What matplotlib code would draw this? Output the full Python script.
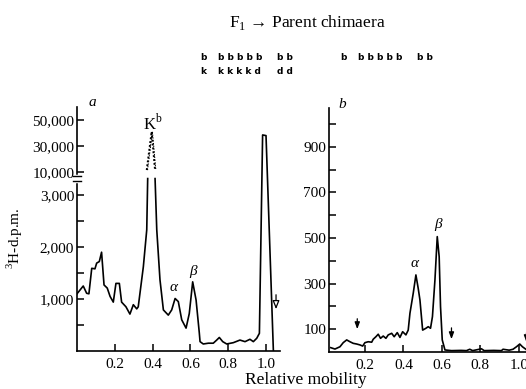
import numpy as np
import matplotlib
matplotlib.use("Agg")
import matplotlib.pyplot as plt
from matplotlib.ticker import FixedLocator, FixedFormatter, NullFormatter

plt.rcParams["font.family"] = ["Liberation Serif", "DejaVu Serif"]
plt.rcParams["mathtext.fontset"] = "custom"
plt.rcParams["mathtext.rm"] = "Liberation Serif"

# panel a: F1 cells, counts (d.p.m.) vs relative mobility
mob_a = [0.0, 0.033, 0.051, 0.063, 0.078, 0.095, 0.104, 0.118, 0.13, 0.143,
         0.16, 0.175, 0.192, 0.206, 0.224, 0.236, 0.259, 0.28, 0.298, 0.316,
         0.324, 0.351, 0.369, 0.374, np.nan, 0.413, 0.422, 0.439, 0.457, 0.483,
         0.501, 0.519, 0.536, 0.554, 0.577, 0.594, 0.612, 0.63, 0.647, 0.651,
         0.668, 0.695, 0.721, 0.739, 0.753, 0.771, 0.792, 0.827, 0.862, 0.889,
         0.915, 0.933, 0.951, 0.965, 0.982, 1.0, 1.039]
dpm_a = [1100, 1250, 1110, 1100, 1590, 1580, 1690, 1720, 1900, 1270,
         1210, 1050, 940, 1300, 1300, 940, 850, 710, 890, 810,
         850, 1620, 2330, 8000, np.nan, 8000, 2330, 1370, 790, 690,
         790, 1010, 950, 600, 440, 720, 1330, 980, 350, 180,
         135, 150, 150, 210, 260, 180, 135, 160, 210, 180,
         225, 180, 245, 340, 38500, 38000, 0]
# off-scale top of the K^b peak (dotted)
kb_mob = [0.369, 0.395, 0.413]
kb_dpm = [11500, 41000, 11500]

# panel b: parent chimaera
mob_b = [0.022, 0.044, 0.07, 0.087, 0.105, 0.122, 0.139, 0.157, 0.174, 0.188,
         0.2, 0.217, 0.235, 0.243, 0.257, 0.269, 0.281, 0.295, 0.309, 0.321,
         0.339, 0.352, 0.368, 0.382, 0.396, 0.413, 0.425, 0.434, 0.451, 0.465,
         0.477, 0.486, 0.5, 0.517, 0.529, 0.541, 0.551, 0.564, 0.576, 0.586,
         0.593, 0.602, 0.616, 0.65, 0.7, 0.728, 0.745, 0.76, 0.806, 0.82,
         0.87, 0.91, 0.918, 0.95, 0.97, 0.988, 1.005, 1.019, 1.04, 1.08]
dpm_b = [19, 13, 23, 41, 53, 45, 38, 35, 31, 26,
         41, 45, 43, 56, 67, 78, 60, 70, 60, 75,
         82, 67, 85, 64, 89, 75, 96, 170, 257, 338,
         279, 228, 96, 104, 111, 104, 155, 316, 506, 418,
         199, 53, 9, 6, 7, 6, 12, 6, 14, 6,
         7, 6, 12, 8, 12, 23, 35, 23, 10, 10]

x_ticks = [0.2, 0.4, 0.6, 0.8, 1.0]
a_ticks = [500, 1000, 1500, 2000, 2500, 3000, 10000, 30000, 50000]
a_labels = ["", "1,000", "", "2,000", "", "3,000", "10,000", "30,000", "50,000"]
b_ticks = [100, 200, 300, 400, 500, 600, 700, 800, 900, 1000]
b_labels = ["100", "", "300", "", "500", "", "700", "", "900", ""]

# arrows (mobility, from, to)
arrow_a = (1.053, 1135, 750)
arrows_b = [(0.16, 158, 88), (0.65, 118, 44), (1.04, 96, 31)]

# broken y scale for panel a: linear to 3,000, squeezed above
brk_v = [-1e6, 0, 3000, 10000, 1e6]
brk_u = [-1000, 0, 3.0, 3.442, 3.442 + 99 * 0.25]


def fwd(v):
    return np.interp(v, brk_v, brk_u)


def inv(u):
    return np.interp(u, brk_u, brk_v)


fig = plt.figure(figsize=(5.26, 3.89), dpi=100)
W, H = 526, 389

ax_a = fig.add_axes([77 / W, 1 - 351 / H, 203 / W, 244 / H])
ax_b = fig.add_axes([329 / W, 1 - 352 / H, 209 / W, 244 / H])

for ax in (ax_a, ax_b):
    ax.spines["top"].set_visible(False)
    ax.spines["right"].set_visible(False)
    ax.spines["left"].set_linewidth(1.2)
    ax.spines["bottom"].set_linewidth(1.2)
    ax.tick_params(direction="in", length=5, width=1.1, labelsize=11, pad=2)
    ax.tick_params(axis="x", pad=5)
    ax.xaxis.set_major_locator(FixedLocator(x_ticks))
    ax.set_xticklabels([f"{t:.1f}" for t in x_ticks])

# panel a
ax_a.set_yscale("function", functions=(fwd, inv))
ax_a.plot(mob_a, dpm_a, color="black", lw=1.2)
ax_a.plot(kb_mob, kb_dpm, color="black", lw=1.4, ls=(0, (1, 1)))
ax_a.plot([m + 0.004 for m in kb_mob], kb_dpm, color="black", lw=0.8, ls=(0, (1, 1.5)))
ax_a.set_xlim(0, 1.074)
ax_a.set_ylim(0, 60000)
ax_a.yaxis.set_major_locator(FixedLocator(a_ticks))
ax_a.yaxis.set_major_formatter(FixedFormatter(a_labels))
ax_a.yaxis.set_minor_formatter(NullFormatter())

# break on the y axis between 3,000 and 10,000
ytr = ax_a.get_yaxis_transform()
ax_a.plot([0, 0], [7300, 8700], color="white", lw=2.5, transform=ytr, clip_on=False, zorder=5)
for v in (7200, 8800):
    ax_a.plot([-0.02, 0.02], [v, v], color="black", lw=1.0, transform=ytr, clip_on=False, zorder=6)

ax_a.text(0.40, 47500, r"K$^{\mathrm{b}}$", ha="center", va="center", fontsize=12)
ax_a.text(0.513, 1230, "α", ha="center", va="center", fontsize=11, style="italic")
ax_a.text(0.614, 1520, "β", ha="center", va="center", fontsize=11, style="italic")
ax_a.annotate("", xy=(arrow_a[0], arrow_a[2]), xytext=(arrow_a[0], arrow_a[1]),
              arrowprops=dict(arrowstyle="-|>,head_length=0.5,head_width=0.2",
                              fc="white", ec="black", lw=0.9),
              annotation_clip=False)

# panel b
ax_b.plot(mob_b, dpm_b, color="black", lw=1.2)
ax_b.set_xlim(0.013, 1.10)
ax_b.set_ylim(0, 1070)
ax_b.yaxis.set_major_locator(FixedLocator(b_ticks))
ax_b.yaxis.set_major_formatter(FixedFormatter(b_labels))
ax_b.text(0.46, 390, "α", ha="center", va="center", fontsize=11, style="italic")
ax_b.text(0.579, 557, "β", ha="center", va="center", fontsize=11, style="italic")
for m, y0, y1 in arrows_b:
    ax_b.annotate("", xy=(m, y1), xytext=(m, y0),
                  arrowprops=dict(arrowstyle="-|>,head_length=0.4,head_width=0.15",
                                  fc="black", ec="black", lw=0.9),
                  annotation_clip=False)

# panel letters
fig.text(92 / W, 1 - 103 / H, "a", fontsize=11, style="italic", ha="center", va="center")
fig.text(342 / W, 1 - 105 / H, "b", fontsize=11, style="italic", ha="center", va="center")

# titles and axis labels
fig.text(307 / W, 1 - 23 / H, "F$_{\\mathrm{1}}$ → Parent chimaera", fontsize=12.5,
         ha="center", va="center")
fig.text(306 / W, 1 - 380 / H, "Relative mobility", fontsize=12.5, ha="center", va="center")
fig.text(15 / W, 1 - 238 / H, "$^{\\mathrm{3}}$H-d.p.m.", fontsize=11, rotation=90,
         ha="center", va="center")

# genotype rows above the panels
geno = [
    (200, 57, "b"), (218, 57, "b b b b b"), (277, 57, "b b"),
    (200, 71, "k"), (218, 71, "k k k k d"), (277, 71, "d d"),
    (340, 57, "b"), (358, 57, "b b b b b"), (417, 57, "b b"),
]
for gx, gy, s in geno:
    fig.text(gx / W, 1 - gy / H, s, fontsize=6.5, family="DejaVu Sans",
             weight="bold", ha="left", va="center")

fig.savefig("out.png", dpi=100)
